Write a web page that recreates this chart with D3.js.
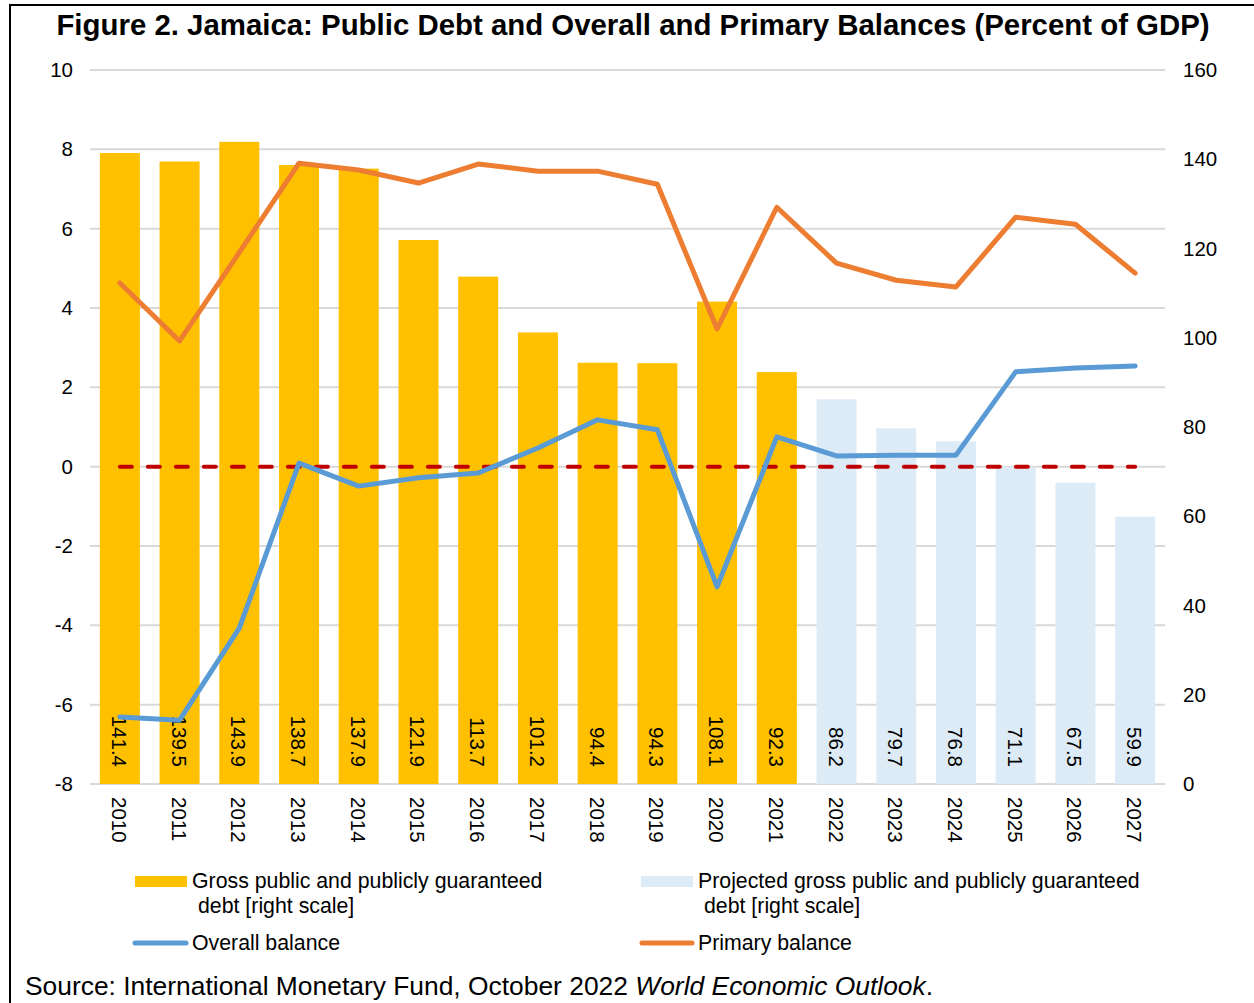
<!DOCTYPE html>
<html>
<head>
<meta charset="utf-8">
<script src="https://cdn.jsdelivr.net/npm/d3@7"></script>
<style>
  body { margin: 0; background: #fff; }
  text { font-family: "Liberation Sans", Arial, sans-serif; fill: #000; }
</style>
</head>
<body>
<div id="chart"></div>
<script>
const years = ["2010","2011","2012","2013","2014","2015","2016","2017","2018","2019","2020","2021","2022","2023","2024","2025","2026","2027"];
const debt = [141.4,139.5,143.9,138.7,137.9,121.9,113.7,101.2,94.4,94.3,108.1,92.3,86.2,79.7,76.8,71.1,67.5,59.9];
const projectedFrom = "2022";
const overallBalance = [-6.31,-6.39,-4.07,0.09,-0.49,-0.28,-0.16,0.47,1.18,0.93,-3.03,0.75,0.27,0.29,0.29,2.39,2.49,2.54];
const primaryBalance = [4.63,3.17,5.4,7.65,7.48,7.15,7.63,7.45,7.45,7.12,3.47,6.54,5.13,4.7,4.53,6.29,6.11,4.88];
const leftTicks = [-8,-6,-4,-2,0,2,4,6,8,10];
const rightTicks = [0,20,40,60,80,100,120,140,160];

const W = 1254, H = 1003;
const margin = { top: 70, right: 89, bottom: 219, left: 90 };
const width = W - margin.left - margin.right;
const height = H - margin.top - margin.bottom;

const svg = d3.select("#chart").append("svg")
  .attr("width", W)
  .attr("height", H);

// frame
svg.append("path")
  .attr("d", `M10,${H} L10,5 L${W},5`)
  .attr("fill", "none")
  .attr("stroke", "#000")
  .attr("stroke-width", 2);

svg.append("text")
  .attr("x", 633)
  .attr("y", 35)
  .attr("text-anchor", "middle")
  .style("font-size", "29.4px")
  .style("font-weight", "bold")
  .text("Figure 2. Jamaica: Public Debt and Overall and Primary Balances (Percent of GDP)");

const g = svg.append("g")
  .attr("transform", `translate(${margin.left}, ${margin.top})`);

const x = d3.scaleBand().domain(years).range([0, width]).paddingInner(0.33).paddingOuter(0.165);
const yL = d3.scaleLinear().domain([-8, 10]).range([height, 0]);
const yR = d3.scaleLinear().domain([0, 160]).range([height, 0]);

// gridlines
g.append("g")
  .selectAll("line")
  .data(leftTicks)
  .enter().append("line")
    .attr("x1", 0).attr("x2", width)
    .attr("y1", d => yL(d)).attr("y2", d => yL(d))
    .attr("stroke", "#d9d9d9")
    .attr("stroke-width", 2);

// bars
g.append("g")
  .selectAll("rect")
  .data(years)
  .enter().append("rect")
    .attr("x", d => x(d))
    .attr("width", x.bandwidth())
    .attr("y", (d, i) => yR(debt[i]))
    .attr("height", (d, i) => yR(0) - yR(debt[i]))
    .attr("fill", d => +d >= +projectedFrom ? "#DDEBF7" : "#FFC000");

// bar labels
g.append("g")
  .selectAll("text")
  .data(years)
  .enter().append("text")
    .attr("transform", d => `translate(${x(d) + x.bandwidth() / 2 - 8}, ${height - 17}) rotate(90)`)
    .attr("text-anchor", "end")
    .style("font-size", "20.5px")
    .text((d, i) => debt[i].toFixed(1));

// zero line
const cx = d => x(d) + x.bandwidth() / 2;
g.append("line")
  .attr("x1", cx(years[0])).attr("x2", cx(years[years.length - 1]))
  .attr("y1", yL(0)).attr("y2", yL(0))
  .attr("stroke", "#C00000")
  .attr("stroke-width", 4)
  .attr("stroke-linecap", "round")
  .attr("stroke-dasharray", "12 16");

const line = d3.line()
  .x((d, i) => cx(years[i]))
  .y(d => yL(d));

g.append("path")
  .datum(primaryBalance)
  .attr("d", line)
  .attr("fill", "none")
  .attr("stroke", "#ED7D31")
  .attr("stroke-width", 5)
  .attr("stroke-linejoin", "round")
  .attr("stroke-linecap", "round");

g.append("path")
  .datum(overallBalance)
  .attr("d", line)
  .attr("fill", "none")
  .attr("stroke", "#5B9BD5")
  .attr("stroke-width", 5)
  .attr("stroke-linejoin", "round")
  .attr("stroke-linecap", "round");

// left axis
const axL = g.append("g").call(d3.axisLeft(yL).tickValues(leftTicks).tickFormat(d => String(d)).tickSize(0).tickPadding(17));
axL.select(".domain").remove();
axL.selectAll("text").style("font-size", "20.5px").style("font-family", "Liberation Sans, Arial, sans-serif");

// right axis
const axR = g.append("g")
  .attr("transform", `translate(${width}, 0)`)
  .call(d3.axisRight(yR).tickValues(rightTicks).tickSize(0).tickPadding(18));
axR.select(".domain").remove();
axR.selectAll("text").style("font-size", "20.5px").style("font-family", "Liberation Sans, Arial, sans-serif");

// year labels
g.append("g")
  .selectAll("text")
  .data(years)
  .enter().append("text")
    .attr("transform", d => `translate(${cx(d) - 8}, ${height + 13}) rotate(90)`)
    .attr("text-anchor", "start")
    .style("font-size", "20.5px")
    .text(d => d);

// legend
const legend = svg.append("g").style("font-size", "21.3px");
legend.append("rect").attr("x", 135).attr("y", 876).attr("width", 52).attr("height", 11).attr("fill", "#FFC000");
legend.append("text").attr("x", 192).attr("y", 888).text("Gross public and publicly guaranteed");
legend.append("text").attr("x", 198).attr("y", 913).text("debt [right scale]");

legend.append("rect").attr("x", 641).attr("y", 876).attr("width", 52).attr("height", 11).attr("fill", "#DDEBF7");
legend.append("text").attr("x", 698).attr("y", 888).text("Projected gross public and publicly guaranteed");
legend.append("text").attr("x", 704).attr("y", 913).text("debt [right scale]");

legend.append("line").attr("x1", 135).attr("x2", 186).attr("y1", 943).attr("y2", 943)
  .attr("stroke", "#5B9BD5").attr("stroke-width", 5).attr("stroke-linecap", "round");
legend.append("text").attr("x", 192).attr("y", 950).text("Overall balance");

legend.append("line").attr("x1", 642).attr("x2", 692).attr("y1", 943).attr("y2", 943)
  .attr("stroke", "#ED7D31").attr("stroke-width", 5).attr("stroke-linecap", "round");
legend.append("text").attr("x", 698).attr("y", 950).text("Primary balance");

const src = svg.append("text").attr("x", 25).attr("y", 995).style("font-size", "26.4px");
src.append("tspan").text("Source: International Monetary Fund, October 2022 ");
src.append("tspan").style("font-style", "italic").text("World Economic Outlook");
src.append("tspan").text(".");
</script>
</body>
</html>
